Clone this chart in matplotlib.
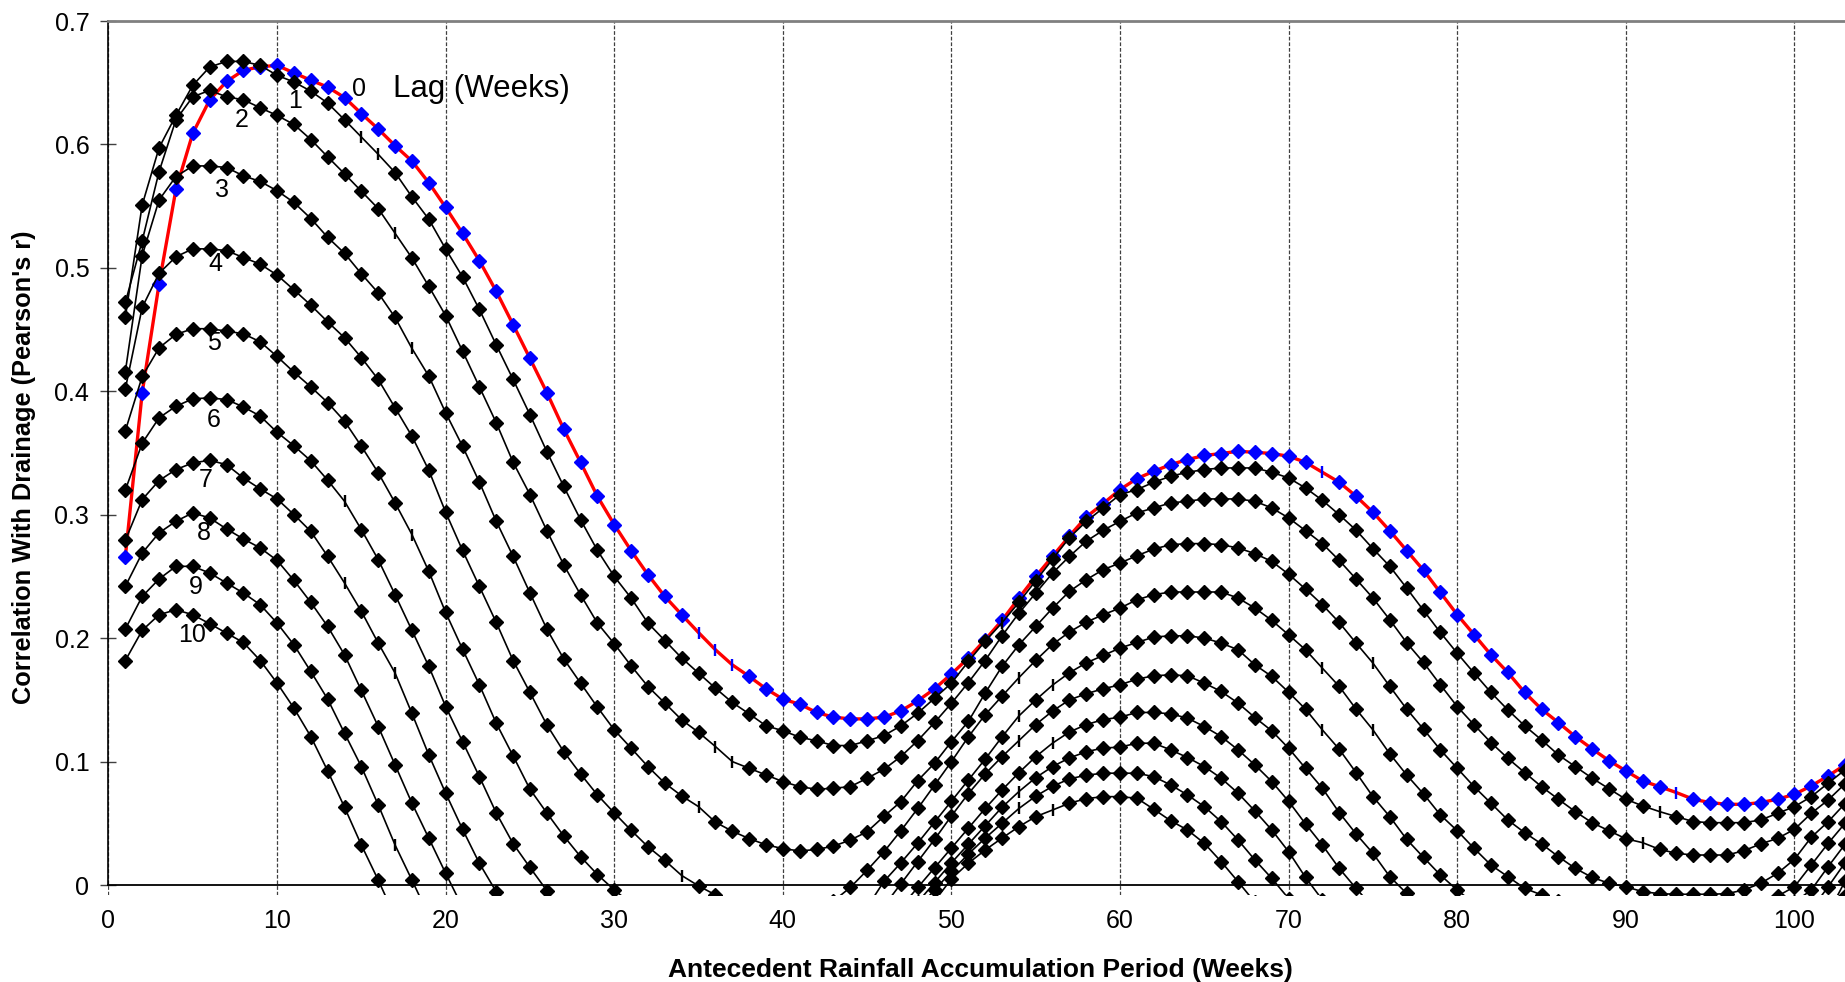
import matplotlib.pyplot as plt
import numpy as np

plt.rcParams['font.family'] = ['Liberation Sans', 'DejaVu Sans']

# accumulation period (weeks)
weeks = np.arange(1, 105)

# correlation for each lag (weeks)
lag0 = [0.266, 0.399, 0.487, 0.5635, 0.609, 0.636, 0.651, 0.660, 0.663, 0.664,
        0.658, 0.652, 0.6465, 0.638, 0.625, 0.6125, 0.599, 0.5865, 0.569, 0.549,
        0.528, 0.5058, 0.481, 0.454, 0.4266, 0.399, 0.3695, 0.3425, 0.3149, 0.292,
        0.2709, 0.2514, 0.2338, 0.219, 0.2045, 0.1906, 0.1784, 0.169, 0.159, 0.1506,
        0.1465, 0.1398, 0.136, 0.1346, 0.1346, 0.136, 0.1411, 0.1492, 0.159, 0.171,
        0.1839, 0.1987, 0.2144, 0.2325, 0.250, 0.2663, 0.2828, 0.2982, 0.309, 0.3204,
        0.3293, 0.3352, 0.3406, 0.3447, 0.348, 0.3496, 0.3514, 0.3506, 0.3496, 0.3474,
        0.3425, 0.3344, 0.3263, 0.315, 0.302, 0.287, 0.271, 0.255, 0.237, 0.219,
        0.2028, 0.1865, 0.1722, 0.156, 0.1425, 0.1316, 0.1203, 0.1103, 0.1008, 0.0925,
        0.0843, 0.0797, 0.0749, 0.0695, 0.0668, 0.0654, 0.0654, 0.0668, 0.0695, 0.0735,
        0.0803, 0.0884, 0.0973, 0.107]
lag1 = [0.460, 0.551, 0.5973, 0.6235, 0.6479, 0.6627, 0.6673, 0.6673, 0.664, 0.656,
        0.6506, 0.6432, 0.6335, 0.620, 0.606, 0.592, 0.5772, 0.5575, 0.5394, 0.5153,
        0.4927, 0.4663, 0.4376, 0.4096, 0.381, 0.3512, 0.323, 0.296, 0.2711, 0.250,
        0.2325, 0.2122, 0.1981, 0.1839, 0.1717, 0.1595, 0.1479, 0.1387, 0.129, 0.125,
        0.1198, 0.1168, 0.113, 0.113, 0.1168, 0.1211, 0.129, 0.1392, 0.1514, 0.1636,
        0.1811, 0.1975, 0.2125, 0.229, 0.2465, 0.264, 0.2815, 0.2946, 0.3055, 0.3163,
        0.3204, 0.3263, 0.3312, 0.3344, 0.3366, 0.3379, 0.3379, 0.3379, 0.3344, 0.3298,
        0.3217, 0.3117, 0.300, 0.2875, 0.2725, 0.2582, 0.2406, 0.2225, 0.2046, 0.1878,
        0.1717, 0.156, 0.1419, 0.129, 0.1176, 0.1054, 0.096, 0.0866, 0.078, 0.0695,
        0.0641, 0.0595, 0.0554, 0.0514, 0.0505, 0.0505, 0.0505, 0.0527, 0.0581, 0.0635,
        0.0716, 0.0825, 0.0933, 0.104]
lag2 = [0.472, 0.522, 0.578, 0.620, 0.6386, 0.6438, 0.6386, 0.6362, 0.6297, 0.6235,
        0.6162, 0.604, 0.590, 0.5762, 0.5621, 0.548, 0.528, 0.508, 0.485, 0.4613,
        0.4326, 0.4036, 0.3745, 0.3425, 0.3163, 0.2871, 0.2595, 0.2352, 0.2122, 0.1955,
        0.1776, 0.1608, 0.1474, 0.1338, 0.1237, 0.1122, 0.100, 0.0946, 0.0892, 0.0838,
        0.0797, 0.0776, 0.0784, 0.0797, 0.0865, 0.0938, 0.1041, 0.117, 0.1317, 0.1473,
        0.164, 0.1819, 0.2019, 0.2203, 0.2365, 0.2528, 0.2663, 0.2786, 0.2874, 0.2947,
        0.3015, 0.3055, 0.3096, 0.3109, 0.3128, 0.3128, 0.3128, 0.3109, 0.3055, 0.2974,
        0.2871, 0.2766, 0.263, 0.2479, 0.2325, 0.2149, 0.1963, 0.1803, 0.1622, 0.1446,
        0.1298, 0.1154, 0.1027, 0.0911, 0.0797, 0.0695, 0.0595, 0.0505, 0.044, 0.0375,
        0.0343, 0.0289, 0.0257, 0.0243, 0.0243, 0.0243, 0.0278, 0.0333, 0.0378, 0.0451,
        0.0581, 0.0689, 0.082, 0.095]
lag3 = [0.416, 0.510, 0.555, 0.574, 0.5826, 0.5826, 0.5813, 0.5746, 0.570, 0.5625,
        0.553, 0.540, 0.5248, 0.5118, 0.4952, 0.4797, 0.4598, 0.4347, 0.4123, 0.3826,
        0.3555, 0.3264, 0.2947, 0.2663, 0.2366, 0.2074, 0.1833, 0.1636, 0.1441, 0.1257,
        0.1109, 0.0959, 0.0825, 0.0722, 0.0635, 0.0509, 0.0436, 0.0376, 0.0326, 0.0295,
        0.0276, 0.0288, 0.0315, 0.0364, 0.0432, 0.0557, 0.0676, 0.0846, 0.0987, 0.1162,
        0.1325, 0.1555, 0.1771, 0.1946, 0.2095, 0.2244, 0.2379, 0.2474, 0.2555, 0.2609,
        0.2668, 0.2722, 0.2757, 0.2766, 0.2766, 0.2757, 0.2731, 0.2685, 0.2622, 0.2518,
        0.2398, 0.2271, 0.2127, 0.196, 0.1798, 0.1609, 0.1425, 0.1263, 0.1095, 0.0946,
        0.0797, 0.0663, 0.0527, 0.0424, 0.0333, 0.023, 0.0135, 0.0062, 0.0014, -0.0014,
        -0.0054, -0.007, -0.0075, -0.0075, -0.0075, -0.007, -0.004, 0.0014, 0.0095, 0.0208,
        0.0387, 0.0513, 0.066, 0.08]
lag4 = [0.402, 0.468, 0.4956, 0.509, 0.5154, 0.5154, 0.514, 0.5084, 0.503, 0.4942,
        0.4822, 0.4698, 0.4563, 0.4434, 0.4273, 0.4096, 0.3866, 0.3636, 0.336, 0.302,
        0.2711, 0.2419, 0.2127, 0.1819, 0.156, 0.1298, 0.1081, 0.09, 0.073, 0.0584,
        0.0443, 0.031, 0.0199, 0.0077, -0.0007, -0.008, -0.015, -0.02, -0.024, -0.026,
        -0.026, -0.023, -0.013, -0.002, 0.012, 0.027, 0.044, 0.062, 0.081, 0.100,
        0.120, 0.138, 0.153, 0.168, 0.182, 0.195, 0.205, 0.213, 0.219, 0.2244,
        0.2311, 0.2352, 0.2374, 0.2374, 0.2374, 0.2374, 0.2325, 0.2244, 0.2144, 0.2027,
        0.1906, 0.1757, 0.1609, 0.1425, 0.1257, 0.1063, 0.0892, 0.0738, 0.0568, 0.044,
        0.0297, 0.0162, 0.0068, -0.0027, -0.008, -0.013, -0.017, -0.02, -0.022, -0.024,
        -0.025, -0.026, -0.026, -0.026, -0.025, -0.023, -0.02, -0.015, -0.009, -0.0014,
        0.0162, 0.0338, 0.050, 0.066]
lag5 = [0.368, 0.412, 0.4352, 0.4461, 0.4507, 0.4507, 0.4488, 0.4466, 0.4401, 0.4282,
        0.4155, 0.4036, 0.3909, 0.3758, 0.3555, 0.334, 0.3096, 0.2839, 0.2541, 0.2208,
        0.1911, 0.1622, 0.1311, 0.1046, 0.0776, 0.0584, 0.0398, 0.023, 0.0085, -0.004,
        -0.015, -0.024, -0.032, -0.039, -0.045, -0.05, -0.054, -0.057, -0.059, -0.06,
        -0.059, -0.056, -0.05, -0.038, -0.018, 0.003, 0.018, 0.034, 0.051, 0.068,
        0.085, 0.102, 0.12, 0.137, 0.15, 0.162, 0.172, 0.18, 0.186, 0.192,
        0.1965, 0.2009, 0.2019, 0.2019, 0.2001, 0.196, 0.1906, 0.1784, 0.169, 0.1562,
        0.1425, 0.1257, 0.110, 0.0911, 0.0716, 0.0554, 0.037, 0.0224, 0.0081, -0.0041,
        -0.015, -0.025, -0.033, -0.04, -0.046, -0.051, -0.055, -0.058, -0.06, -0.061,
        -0.061, -0.06, -0.058, -0.055, -0.051, -0.046, -0.04, -0.032, -0.023, -0.014,
        -0.004, 0.0149, 0.033, 0.051]
lag6 = [0.320, 0.358, 0.3785, 0.3879, 0.3939, 0.3947, 0.3933, 0.3874, 0.3799, 0.3668,
        0.3558, 0.3437, 0.328, 0.3109, 0.2879, 0.2636, 0.2352, 0.2063, 0.1771, 0.1446,
        0.1162, 0.0878, 0.0584, 0.0335, 0.0142, -0.0045, -0.022, -0.038, -0.052, -0.064,
        -0.075, -0.084, -0.092, -0.098, -0.103, -0.106, -0.107, -0.106, -0.103, -0.098,
        -0.091, -0.082, -0.07, -0.055, -0.036, -0.017, 0.001, 0.019, 0.037, 0.056,
        0.074, 0.09, 0.104, 0.117, 0.13, 0.141, 0.15, 0.155, 0.159, 0.1622,
        0.1668, 0.1695, 0.1703, 0.1695, 0.1636, 0.1568, 0.1474, 0.1357, 0.1249, 0.1108,
        0.0946, 0.0784, 0.0587, 0.0414, 0.0257, 0.0068, -0.0068, -0.02, -0.033, -0.045,
        -0.056, -0.066, -0.075, -0.083, -0.09, -0.096, -0.1, -0.103, -0.105, -0.106,
        -0.106, -0.104, -0.101, -0.097, -0.091, -0.083, -0.074, -0.063, -0.05, -0.036,
        -0.02, -0.0014, 0.018, 0.036]
lag7 = [0.2793, 0.3123, 0.3277, 0.3366, 0.342, 0.3441, 0.3406, 0.3298, 0.3209, 0.3128,
        0.3001, 0.2865, 0.2663, 0.2447, 0.2217, 0.196, 0.1717, 0.139, 0.1054, 0.0744,
        0.0452, 0.0176, -0.0055, -0.028, -0.048, -0.066, -0.082, -0.096, -0.108, -0.118,
        -0.126, -0.132, -0.136, -0.138, -0.139, -0.138, -0.135, -0.131, -0.125, -0.117,
        -0.107, -0.095, -0.081, -0.066, -0.05, -0.034, -0.018, -0.002, 0.014, 0.03,
        0.046, 0.062, 0.077, 0.091, 0.104, 0.115, 0.124, 0.13, 0.134, 0.136,
        0.1398, 0.1398, 0.1387, 0.1352, 0.1284, 0.1203, 0.1095, 0.0973, 0.0838, 0.0678,
        0.0495, 0.0324, 0.0135, -0.0027, -0.018, -0.033, -0.047, -0.06, -0.072, -0.083,
        -0.093, -0.102, -0.11, -0.117, -0.123, -0.128, -0.132, -0.135, -0.137, -0.138,
        -0.138, -0.137, -0.134, -0.13, -0.124, -0.116, -0.106, -0.094, -0.08, -0.064,
        -0.046, -0.023, 0.003, 0.022]
lag8 = [0.242, 0.269, 0.2853, 0.2947, 0.3015, 0.2974, 0.2885, 0.2804, 0.2731, 0.263,
        0.2468, 0.229, 0.2095, 0.1865, 0.1576, 0.1284, 0.0973, 0.0663, 0.0379, 0.0095,
        -0.018, -0.044, -0.068, -0.09, -0.11, -0.128, -0.143, -0.156, -0.166, -0.174,
        -0.18, -0.184, -0.186, -0.186, -0.184, -0.18, -0.174, -0.166, -0.156, -0.144,
        -0.13, -0.114, -0.097, -0.08, -0.063, -0.046, -0.03, -0.014, 0.002, 0.018,
        0.033, 0.048, 0.063, 0.0757, 0.087, 0.096, 0.103, 0.108, 0.111, 0.1117,
        0.1149, 0.1149, 0.1095, 0.1033, 0.096, 0.0865, 0.0744, 0.06, 0.0446, 0.027,
        0.0062, -0.012, -0.03, -0.047, -0.063, -0.078, -0.092, -0.105, -0.117, -0.128,
        -0.138, -0.147, -0.155, -0.162, -0.168, -0.173, -0.177, -0.18, -0.182, -0.183,
        -0.182, -0.178, -0.172, -0.163, -0.152, -0.139, -0.124, -0.107, -0.085, -0.062,
        -0.045, -0.028, -0.009, 0.01]
lag9 = [0.2074, 0.2338, 0.2479, 0.2582, 0.2582, 0.2528, 0.2447, 0.2366, 0.2271, 0.2122,
        0.1946, 0.173, 0.1506, 0.123, 0.0959, 0.0649, 0.0324, 0.004, -0.025, -0.052,
        -0.077, -0.1, -0.12, -0.138, -0.154, -0.168, -0.18, -0.19, -0.198, -0.204,
        -0.208, -0.21, -0.21, -0.208, -0.204, -0.198, -0.19, -0.18, -0.168, -0.154,
        -0.138, -0.121, -0.103, -0.085, -0.067, -0.05, -0.034, -0.019, -0.004, 0.011,
        0.025, 0.038, 0.050, 0.062, 0.072, 0.080, 0.086, 0.089, 0.0906, 0.0906,
        0.0906, 0.0878, 0.0811, 0.073, 0.0635, 0.0513, 0.0365, 0.0203, 0.0054, -0.011,
        -0.028, -0.045, -0.061, -0.076, -0.09, -0.104, -0.117, -0.129, -0.14, -0.15,
        -0.159, -0.167, -0.174, -0.18, -0.185, -0.189, -0.192, -0.194, -0.195, -0.195,
        -0.194, -0.192, -0.186, -0.18, -0.171, -0.16, -0.147, -0.131, -0.113, -0.092,
        -0.066, -0.04, -0.016, 0.006]
lag10 = [0.1819, 0.2063, 0.219, 0.223, 0.219, 0.2117, 0.2041, 0.1965, 0.1819, 0.1636,
         0.1433, 0.1203, 0.0925, 0.063, 0.0324, 0.004, -0.026, -0.055, -0.082, -0.107,
         -0.13, -0.151, -0.17, -0.187, -0.201, -0.213, -0.222, -0.229, -0.234, -0.237,
         -0.238, -0.237, -0.234, -0.229, -0.222, -0.213, -0.202, -0.19, -0.176, -0.161,
         -0.145, -0.128, -0.111, -0.094, -0.077, -0.061, -0.045, -0.03, -0.013, 0.005,
         0.0176, 0.0284, 0.038, 0.0473, 0.0554, 0.0608, 0.0663, 0.070, 0.0716, 0.0716,
         0.0703, 0.0614, 0.0521, 0.0446, 0.0338, 0.0189, 0.0027, -0.014, -0.031, -0.048,
         -0.064, -0.079, -0.094, -0.108, -0.121, -0.133, -0.144, -0.154, -0.163, -0.171,
         -0.178, -0.184, -0.189, -0.193, -0.196, -0.198, -0.199, -0.199, -0.198, -0.196,
         -0.193, -0.189, -0.183, -0.175, -0.166, -0.155, -0.143, -0.129, -0.112, -0.093,
         -0.072, -0.05, -0.026, -0.002]

lags = [lag0, lag1, lag2, lag3, lag4, lag5, lag6, lag7, lag8, lag9, lag10]
for s in lags:
    assert len(s) == len(weeks)

# points drawn as a small tick instead of a diamond in the original
tick_pts = {0: [35, 36, 37, 72, 93], 1: [15, 16, 53, 92], 2: [17, 36, 37, 91],
            3: [18, 35, 75], 4: [34, 54, 72, 75], 5: [18, 54, 56, 72],
            6: [14, 54], 7: [14, 17, 56], 8: [54], 9: [17, 54], 10: [56]}

# lag labels written on the curves
lab_text = ['0', '1', '2', '3', '4', '5', '6', '7', '8', '9', '10']
lab_x = [14.83, 11.07, 7.91, 6.76, 6.33, 6.23, 6.23, 5.78, 5.68, 5.18, 4.95]
lab_y = [0.6448, 0.6353, 0.6199, 0.5631, 0.5034, 0.4393, 0.3766, 0.3285, 0.2852, 0.2414, 0.2028]

xticks = list(range(0, 101, 10))
yticks = [0, 0.1, 0.2, 0.3, 0.4, 0.5, 0.6, 0.7]
ytick_labels = ['0', '0.1', '0.2', '0.3', '0.4', '0.5', '0.6', '0.7']

fig = plt.figure(figsize=(18.45, 9.82), dpi=100)
ax = fig.add_axes([0.0588, 0.0887, 0.9412, 0.8899])

for i, vals in enumerate(lags):
    vals = np.array(vals)
    if i == 0:
        lc, mc, lw, ms = '#FF0000', '#0000FF', 2.4, 7.4
    else:
        lc, mc, lw, ms = 'black', 'black', 1.2, 7.0
    z = 2 + i
    ax.plot(weeks, vals, '-', color=lc, lw=lw, zorder=z)
    mask = np.isin(weeks, tick_pts[i])
    ax.plot(weeks[~mask], vals[~mask], ls='none', marker='D', ms=ms,
            color=mc, mec=mc, zorder=z)
    ax.plot(weeks[mask], vals[mask], ls='none', marker='|', ms=8, mew=1.7,
            color=mc, zorder=z)

for t, x, y in zip(lab_text, lab_x, lab_y):
    ax.text(x, y, t, fontsize=18, ha='center', va='center', zorder=20)
ax.text(16.9, 0.6448, 'Lag (Weeks)', fontsize=22.5, ha='left', va='center', zorder=20)

ax.set_xlim(0, 103.0)
ax.set_ylim(-0.008, 0.7)
ax.set_xticks(xticks)
ax.set_yticks(yticks)
ax.set_yticklabels(ytick_labels)
ax.tick_params(axis='x', length=0, pad=17.5, labelsize=18)
ax.tick_params(axis='y', direction='inout', length=12, width=1, color='0.25',
               pad=7.8, labelsize=18)

ax.grid(axis='x', color='0.25', ls=(0, (3, 1.5)), lw=0.9)
ax.set_axisbelow(True)

ax.spines['right'].set_visible(False)
ax.spines['top'].set_color('#808080')
ax.spines['top'].set_linewidth(2.0)
ax.spines['left'].set_bounds(0, 0.7)
ax.spines['left'].set_linewidth(1.2)
ax.spines['bottom'].set_position(('data', 0))
ax.spines['bottom'].set_linewidth(1.3)

ax.set_xlabel('Antecedent Rainfall Accumulation Period (Weeks)', fontsize=19,
              fontweight='bold', va='baseline')
ax.xaxis.set_label_coords(0.5024, -0.0936)
ax.set_ylabel("Correlation With Drainage (Pearson's r)", fontsize=18.3,
              fontweight='bold', va='center')
ax.yaxis.set_label_coords(-0.0487, 0.4888)

fig.savefig('out.png', dpi=100)
